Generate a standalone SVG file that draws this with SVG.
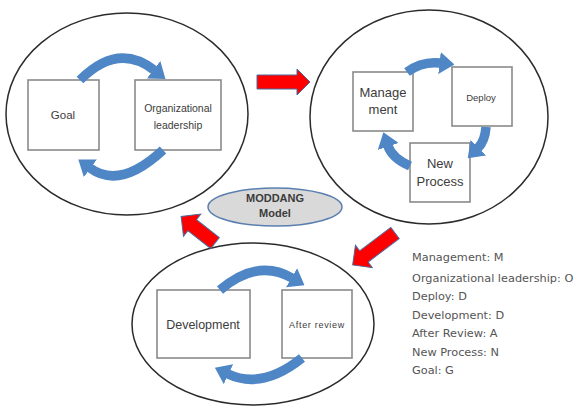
<svg xmlns="http://www.w3.org/2000/svg" width="580" height="409" viewBox="0 0 580 409">
<defs>
<style>
.cyc{fill:#ffffff;stroke:#2b2b2b;stroke-width:1.5}
.box{fill:#ffffff;stroke:#8a8a8a;stroke-width:1.6}
.bt{font-family:"Liberation Sans",Arial,sans-serif;fill:#3c3c3c;text-anchor:middle}
.arc{fill:none;stroke:#4f86c6;stroke-width:9.5;marker-end:url(#bh)}
.red{fill:#ff0000;stroke:#4a6a9c;stroke-width:1}
.lg{font-family:"DejaVu Sans",Verdana,sans-serif;font-size:11.3px;fill:#555555}
</style>
<marker id="bh" markerUnits="userSpaceOnUse" markerWidth="15" markerHeight="22" viewBox="0 0 15 22" refX="0.5" refY="11" orient="auto">
<path d="M0,0 L15,11 L0,22 z" fill="#4f86c6"/>
</marker>
</defs>

<g id="cycle-top-left">
<ellipse class="cyc" cx="127" cy="114" rx="121" ry="101"/>
</g>
<g id="cycle-top-right">
<ellipse class="cyc" cx="429" cy="117" rx="119" ry="107"/>
</g>
<g id="cycle-bottom">
<ellipse class="cyc" cx="253" cy="324" rx="121" ry="81"/>
</g>

<g id="moddang">
<ellipse cx="275" cy="207" rx="67" ry="19" fill="#d9d9d9" stroke="#5b7fb0" stroke-width="1.5"/>
<text class="bt" x="275" y="202" font-size="11" font-weight="bold">MODDANG</text>
<text class="bt" x="275" y="217" font-size="11" font-weight="bold">Model</text>
</g>

<g id="goal">
<rect class="box" x="28" y="80" width="71" height="70"/>
<text class="bt" x="63" y="119" font-size="11.5">Goal</text>
</g>
<g id="organizational-leadership">
<rect class="box" x="135" y="80" width="86" height="70"/>
<text class="bt" x="178" y="112" font-size="10.5" fill="#555">Organizational</text>
<text class="bt" x="178" y="129" font-size="10.5" fill="#555">leadership</text>
</g>
<g id="management">
<rect class="box" x="353" y="72" width="60" height="59"/>
<text class="bt" x="383" y="97" font-size="13">Manage</text>
<text class="bt" x="383" y="114" font-size="13">ment</text>
</g>
<g id="deploy">
<rect class="box" x="452" y="67" width="60" height="59"/>
<text class="bt" x="481" y="101" font-size="9.5">Deploy</text>
</g>
<g id="new-process">
<rect class="box" x="410" y="143" width="60" height="59"/>
<text class="bt" x="440" y="168" font-size="13">New</text>
<text class="bt" x="440" y="186" font-size="13">Process</text>
</g>
<g id="development">
<rect class="box" x="157" y="290" width="93" height="68"/>
<text class="bt" x="203" y="329" font-size="12.5">Development</text>
</g>
<g id="after-review">
<rect class="box" x="282" y="290" width="70" height="68"/>
<text class="bt" x="317" y="328" font-size="9" letter-spacing="0.7">After review</text>
</g>

<g id="connectors">
<path class="arc" d="M80,80 Q118,42 154,70"/>
<path class="arc" d="M163,150 Q120,190 90,168"/>
<path class="arc" d="M407,72 Q422,61 440,63"/>
<path class="arc" d="M486,127 Q485,141 478,148"/>
<path class="arc" d="M410,166 Q392,158 388,146"/>
<path class="arc" d="M220,290 Q258,258 292,278"/>
<path class="arc" d="M302,358 Q262,390 228,374"/>
<polygon class="red" transform="translate(257,82)" points="0,-7 40,-7 40,-13 53,0 40,13 40,7 0,7"/>
<polygon class="red" transform="translate(215,243) rotate(218)" points="0,-7 29,-7 29,-14 43,0 29,14 29,7 0,7"/>
<polygon class="red" transform="translate(395,233) rotate(143)" points="0,-7 39,-7 39,-14 53,0 39,14 39,7 0,7"/>
</g>

<g id="legend">
<text class="lg" x="412" y="261">Management: M</text>
<text class="lg" x="412" y="282">Organizational leadership: O</text>
<text class="lg" x="412" y="300">Deploy: D</text>
<text class="lg" x="412" y="319">Development: D</text>
<text class="lg" x="412" y="337">After Review: A</text>
<text class="lg" x="412" y="356">New Process: N</text>
<text class="lg" x="412" y="374">Goal: G</text>
</g>
</svg>
